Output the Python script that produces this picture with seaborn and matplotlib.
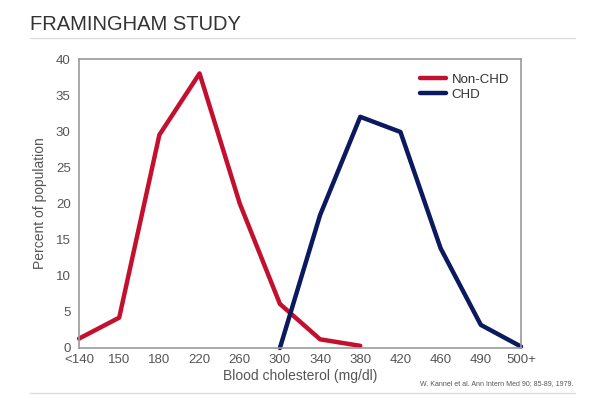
import pandas as pd
import matplotlib.pyplot as plt
import seaborn as sns

# Framingham study: cholesterol distribution, non-CHD vs CHD
categories = ["<140", "150", "180", "220", "260", "300", "340", "380",
              "420", "460", "490", "500+"]
non_chd_cats = categories[:8]
non_chd_pct = [1.3, 4.2, 29.5, 38.0, 20.0, 6.1, 1.2, 0.3]
chd_cats = categories[5:]
chd_pct = [0.0, 18.4, 32.0, 29.9, 13.8, 3.2, 0.2]
y_ticks = [0, 5, 10, 15, 20, 25, 30, 35, 40]

sns.set_theme(style="white")
plt.rcParams['font.family'] = ['Liberation Sans', 'DejaVu Sans']

pos = {c: i for i, c in enumerate(categories)}
df = pd.concat([
    pd.DataFrame({"x": [pos[c] for c in non_chd_cats], "pct": non_chd_pct, "group": "Non-CHD"}),
    pd.DataFrame({"x": [pos[c] for c in chd_cats], "pct": chd_pct, "group": "CHD"}),
])

fig = plt.figure(figsize=(6, 3.95), dpi=100)
ax = fig.add_axes([0.1317, 0.119, 0.7366, 0.7316])

palette = {"Non-CHD": "#c3102f", "CHD": "#0b1a5e"}
sns.lineplot(data=df, x="x", y="pct", hue="group", palette=palette,
             linewidth=3.2, ax=ax, clip_on=False)

ax.set_xlim(0, len(categories) - 1)
ax.set_ylim(0, 40)
ax.set_xticks(range(len(categories)))
ax.set_xticklabels(categories)
ax.set_yticks(y_ticks)
ax.tick_params(axis="both", length=0, labelsize=9.5, colors="#555555")
ax.tick_params(axis="x", pad=4.5)
ax.tick_params(axis="y", pad=6)
for s in ax.spines.values():
    s.set_color("#999999")
    s.set_linewidth(1.2)

ax.set_xlabel("Blood cholesterol (mg/dl)", fontsize=10, color="#555555", labelpad=2)
ax.set_ylabel("Percent of population", fontsize=10, color="#555555", labelpad=6)

leg = ax.legend(loc="upper right", bbox_to_anchor=(1.0, 0.99), frameon=False,
                fontsize=9.5, handlelength=2.0, handletextpad=0.4, labelspacing=0.2)
for t in leg.get_texts():
    t.set_color("#333333")

fig.text(0.05, 0.937, "FRAMINGHAM STUDY", fontsize=14.5, color="#333333", va="center")
fig.add_artist(plt.Line2D([0.05, 0.958], [0.904, 0.904], color="#dddddd", lw=1))
fig.add_artist(plt.Line2D([0.05, 0.958], [0.006, 0.006], color="#dddddd", lw=1))
fig.text(0.955, 0.03, "W. Kannel et al. Ann Intern Med 90; 85-89, 1979.",
         fontsize=5, color="#555555", ha="right", va="center")

fig.savefig("out.png", dpi=100)
